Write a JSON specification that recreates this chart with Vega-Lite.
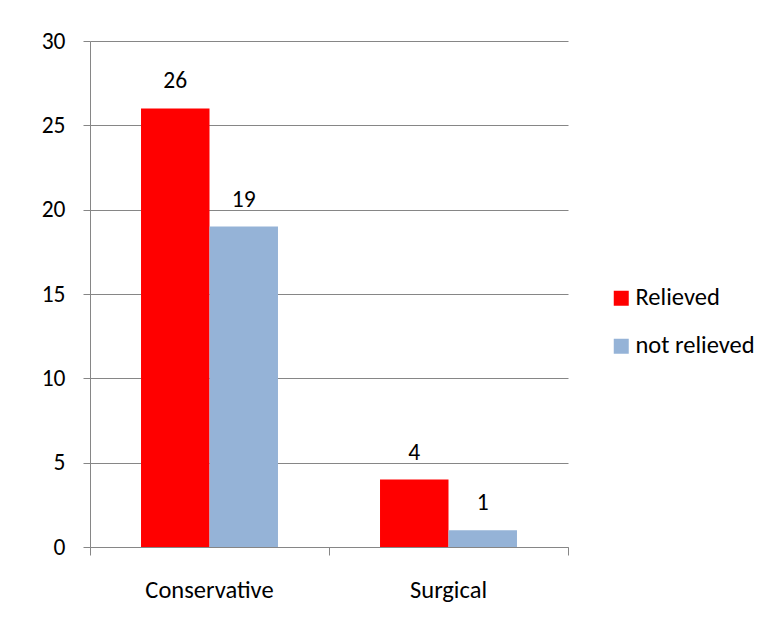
{
  "$schema": "https://vega.github.io/schema/vega-lite/v6.json",
  "width": 478,
  "height": 506,
  "autosize": "none",
  "padding": {"left": 90, "top": 41, "right": 208, "bottom": 80},
  "background": "white",
  "config": {
    "font": "Carlito, Lato, sans-serif",
    "view": {"stroke": null}
  },
  "data": {
    "values": [
      {"treatment": "Conservative", "outcome": "Relieved", "count": 26},
      {"treatment": "Conservative", "outcome": "not relieved", "count": 19},
      {"treatment": "Surgical", "outcome": "Relieved", "count": 4},
      {"treatment": "Surgical", "outcome": "not relieved", "count": 1}
    ]
  },
  "encoding": {
    "x": {
      "field": "treatment",
      "type": "nominal",
      "sort": null,
      "scale": {"paddingInner": 0, "paddingOuter": 0},
      "axis": {
        "title": null,
        "labelAngle": 0,
        "bandPosition": 1,
        "tickExtra": true,
        "tickSize": 8,
        "labelPadding": 23,
        "labelFontSize": 24.5,
        "labelFont": "Carlito, Lato, sans-serif",
        "labelColor": "#000000",
        "domainColor": "#868686",
        "tickColor": "#868686",
        "grid": false
      }
    },
    "xOffset": {
      "field": "outcome",
      "type": "nominal",
      "sort": null,
      "scale": {"paddingInner": 0, "paddingOuter": 0.745}
    },
    "y": {
      "field": "count",
      "type": "quantitative",
      "scale": {"domain": [0, 30], "nice": false},
      "axis": {
        "title": null,
        "values": [0, 5, 10, 15, 20, 25, 30],
        "grid": true,
        "gridColor": "#868686",
        "domainColor": "#868686",
        "tickColor": "#868686",
        "tickSize": 7,
        "labelPadding": 18,
        "labelFontSize": 23.5,
        "labelFont": "Carlito, Lato, sans-serif",
        "labelColor": "#000000"
      }
    }
  },
  "layer": [
    {
      "mark": {"type": "bar"},
      "encoding": {
        "color": {
          "field": "outcome",
          "type": "nominal",
          "sort": null,
          "scale": {"domain": ["Relieved", "not relieved"], "range": ["#FF0000", "#95B3D7"]},
          "legend": {
            "title": null,
            "orient": "none",
            "legendX": 519,
            "legendY": 245,
            "padding": 0,
            "symbolType": "square",
            "symbolSize": 225,
            "symbolStrokeWidth": 0,
            "labelFontSize": 24.5,
            "labelFont": "Carlito, Lato, sans-serif",
            "labelColor": "#000000",
            "labelOffset": 2,
            "rowPadding": 23
          }
        }
      }
    },
    {
      "mark": {"type": "text", "dy": -20, "baseline": "alphabetic", "fontSize": 23.5, "font": "Carlito, Lato, sans-serif", "color": "#000000"},
      "encoding": {
        "text": {"field": "count", "type": "quantitative"}
      }
    }
  ]
}
